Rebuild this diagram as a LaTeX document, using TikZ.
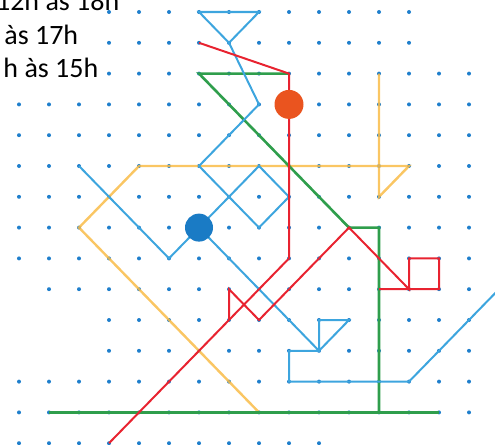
\documentclass[tikz,border=0pt]{standalone}
\usepackage{fontspec}
\setmainfont{Carlito}
\definecolor{dotc}{HTML}{1F7FCC}
\definecolor{lblue}{HTML}{3DA5DE}
\definecolor{lred}{HTML}{E82330}
\definecolor{lgreen}{HTML}{2F9E4C}
\definecolor{lyellow}{HTML}{F9BC48}
\definecolor{corange}{HTML}{EA541F}
\definecolor{cblue}{HTML}{1A7BC5}
\begin{document}
\begin{tikzpicture}[x=30bp,y=-30.8bp,
  gdot/.style={fill=dotc},
  blueline/.style={draw=lblue,line width=2bp},
  redline/.style={draw=lred,line width=2bp},
  greenline/.style={draw=lgreen,line width=2.6bp},
  yellowline/.style={draw=lyellow,line width=2.4bp,draw opacity=0.85},
  bigdot/.style={circle,inner sep=0pt,minimum size=#1},
  label/.style={inner sep=0pt,anchor=base east,font=\fontsize{28bp}{33bp}\selectfont}]
\useasboundingbox (-0.63333,-0.38961) rectangle (15.86667,14.05844);
\clip (-0.63333,-0.38961) rectangle (15.86667,14.05844);
% dot grid
\foreach \j/\a/\b in {0/3/13,1/3/13,2/3/15,3/0/15,4/0/15,5/0/15,6/0/15,7/0/15,8/0/15,9/1/15,10/3/15,11/3/15,12/0/15,13/0/15,14/0/10}
  \foreach \i in {\a,...,\b} \fill[gdot] (\i,\j) circle (2bp);
% labels
\node[label] (t1) at (3.35,-0.04) {12h às 18h};
\node[label] (t2) at (1.98,1.05) {às 17h};
\node[label] (t3) at (2.65,2.12) {h às 15h};
% yellow
\draw[yellowline] (12,2) -- (12,6) -- (13,5) -- (4,5) -- (2,7) -- (8,13);
% green
\draw[greenline] (9,2) -- (6,2) -- (11,7) -- (12,7) -- (12,13);
\draw[greenline] (1,13) -- (14,13);
% blue
\draw[blueline] (6,0) -- (8,0) -- (7,1) -- cycle;
\draw[blueline] (7,1) -- (8,3) -- (6,5) -- (8,7) -- (9,6) -- (8,5) -- (5,8) -- (2,5);
\draw[blueline] (6,7) -- (10,11) -- (11,10) -- (10,10) -- (10,11) -- (9,11) -- (9,12) -- (13,12) -- (16,9);
% red
\draw[redline] (6,1) -- (9,2) -- (9,8) -- (3,14);
\draw[redline] (7,10) -- (7,9) -- (8,10) -- (11,7) -- (13,9) -- (13,8) -- (14,8) -- (14,9) -- (12,9);
% big dots
\node[bigdot=29bp,fill=corange] (orangeDot) at (9,3) {};
\node[bigdot=28bp,fill=cblue] (blueDot) at (6,7) {};
\end{tikzpicture}
\end{document}
